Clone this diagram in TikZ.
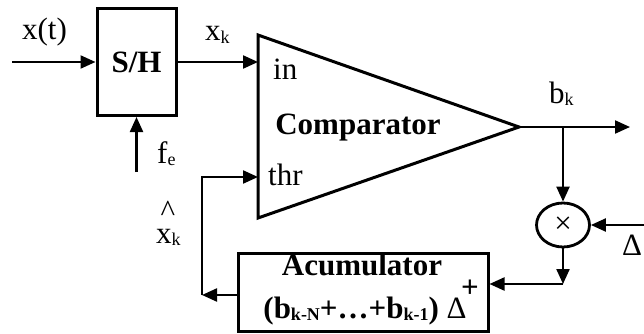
\documentclass[tikz,border=0pt]{standalone}
\usepackage{fontspec}
\setmainfont{Liberation Serif}
\usetikzlibrary{arrows.meta,shapes.geometric}
\newcommand{\lowidx}[1]{\raisebox{-2.5pt}{\fontsize{18pt}{18pt}\selectfont #1}}
\begin{document}
\begin{tikzpicture}[x=1pt,y=-1pt,
    every node/.style={font=\fontsize{31pt}{36pt}\selectfont,inner sep=0pt},
    boldtxt/.style={font=\fontsize{31pt}{36pt}\selectfont\bfseries},
    arr/.style={line width=2.2pt,-{Triangle[length=15pt,width=13pt]}},
    blk/.style={draw,line width=3pt}]
  \useasboundingbox (0,0) rectangle (644,334);
  \node[blk,boldtxt,minimum width=79pt,minimum height=107pt] (sh) at (136.5,62) {S/H};
  \draw[blk,line join=miter] (258,35) -- (519,127) coordinate (tip) -- (258,218) -- cycle;
  \coordinate (cin) at (258,62);
  \coordinate (cthr) at (258,177);
  \node[draw,ellipse,line width=2.8pt,minimum width=53pt,minimum height=44pt] (mul) at (563,225) {×};
  \node[blk,minimum width=250pt,minimum height=78pt] (acc) at (363,292) {};
  \node[boldtxt,anchor=base] (acctop) at (362,275) {Acumulator};
  \node[boldtxt,anchor=base] (accbot) at (365,318) {(b\lowidx{k-N}+…+b\lowidx{k-1}) {\mdseries Δ}};
  \node[boldtxt,anchor=base] (plus) at (470,297) {+};
  \node[boldtxt,anchor=base] (cmp) at (358,134) {Comparator};
  \node[anchor=base west] (inl) at (273,80) {in};
  \node[anchor=base west] (thrl) at (268,185) {thr};
  % signal labels
  \node[anchor=base] (xtl) at (44.5,40) {x(t)};
  \node[anchor=base west] (xkl) at (205,41) {x\lowidx{k}};
  \node[anchor=base west] (fel) at (157,163) {f\lowidx{e}};
  \node[anchor=base west] (bkl) at (549,103) {b\lowidx{k}};
  \node[anchor=base] (hat) at (168,221) {\textasciicircum};
  \node[anchor=base west] (xkh) at (156,243) {x\lowidx{k}};
  \node[anchor=base west] (dl) at (622,255) {Δ};
  % connectors
  \coordinate (xin) at (12,62);
  \coordinate (fin) at (136.5,172);
  \coordinate (bout) at (630,127);
  \coordinate (brk) at (563,127);
  \coordinate (din) at (644,225);
  \coordinate (acor) at (563,284);
  \coordinate (fbk) at (202,295);
  \draw[arr] (xin) -- (sh);
  \draw[arr] (sh) -- (cin);
  \draw[arr] (fin) -- (sh);
  \draw[arr] (tip) -- (bout);
  \draw[arr] (brk) -- (mul);
  \draw[arr] (din) -- (mul);
  \draw[arr] (mul) -- (acor);
  \draw[arr] (acor) -- (acor -| acc.east);
  \draw[arr] (acc.west |- fbk) -- (fbk);
  \draw[arr] (fbk) |- (cthr);
\end{tikzpicture}
\end{document}
